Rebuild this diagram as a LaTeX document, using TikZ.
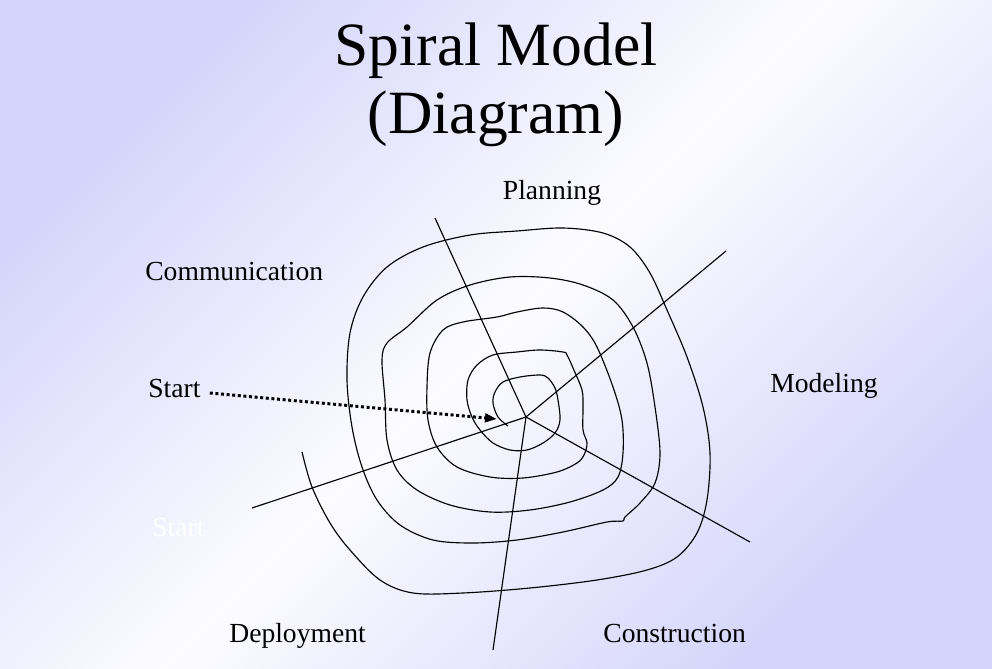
\documentclass[tikz,border=0pt]{standalone}
\usepackage{fontspec}
\setmainfont{Liberation Serif}
\usetikzlibrary{positioning, arrows.meta}
\definecolor{slidelav}{RGB}{212,212,251}
\definecolor{slidewhite}{RGB}{252,252,255}
\tikzset{
  phase/.style={font=\fontsize{15.7}{19}\selectfont, inner sep=0pt, anchor=base west},
  titletext/.style={font=\fontsize{35}{39}\selectfont, inner sep=0pt, anchor=base},
  spoke/.style={black, line width=0.65pt},
  startarrow/.style={line width=1.7pt, dash pattern=on 1.7pt off 1.5pt, -{Triangle[length=0.24cm, width=0.17cm]}},
}

\begin{document}
\begin{tikzpicture}[x=0.02cm, y=-0.02cm]
  % slide background
  \shade[top color=slidelav, bottom color=slidelav, middle color=slidewhite, shading angle=45] (0,0) rectangle (992,669);

  \node[titletext] (title1) at (496,66) {Spiral Model};
  \node[titletext] (title2) at (496,134) {(Diagram)};

  \node[phase, anchor=base] (planning) at (552,200) {Planning};
  \node[phase] (communication) at (145,281) {Communication};
  \node[phase] (start) at (148,398) {Start};
  \node[phase] (modeling) at (770,393) {Modeling};
  \node[phase] (deployment) at (229,642) {Deployment};
  \node[phase] (construction) at (603,642) {Construction};
  \node[phase, text=white] (ghost) at (152,536) {Start};

  % spokes
  \coordinate (hub) at (526,417);
  \coordinate (planend) at (435,218);
  \coordinate (modend) at (726,251);
  \coordinate (consend) at (750,542);
  \coordinate (depend) at (493,650);
  \coordinate (commend) at (252,508);
  \foreach \e in {planend, modend, consend, depend, commend}
    \draw[spoke] (hub) -- (\e);

  % the spiral, from the inside out
  \draw[spoke] plot[smooth, tension=0.55] coordinates {
    (508,426) (498,417) (493,403) (495,392) (503,382) (520,377) (540,375) (548,378)
    (555,388) (558,400) (560,420) (555,433) (543,443) (527,450) (510,450) (493,443)
    (480,430) (472,417) (467,400) (468,380) (477,365) (493,355) (517,352) (540,350)
    (563,352) (567,355) (573,368) (582,390) (583,407) (583,430) (587,443) (584,455)
    (577,463) (557,472) (523,478) (490,477) (457,467) (437,447) (428,420) (427,387)
    (430,353) (443,330) (463,322) (497,317) (517,312) (543,308) (563,312) (583,327)
    (597,347) (613,387) (622,420) (623,453) (618,477) (603,490) (570,502) (530,510)
    (490,512) (450,505) (417,490) (397,470) (387,440) (385,400) (382,360) (387,343)
    (407,327) (437,300) (470,285) (510,277) (550,278) (583,285) (613,300) (633,327)
    (647,363) (655,407) (660,453) (655,483) (640,503) (625,517) (623,521) (607,522)
    (563,532) (517,540) (473,543) (433,540) (400,525) (377,500) (362,467) (352,427)
    (347,380) (350,333) (363,297) (387,267) (423,247) (470,235) (517,231) (563,228)
    (603,233) (630,247) (650,273) (667,310) (687,357) (703,407) (710,453) (707,500)
    (697,533) (677,557) (647,570) (597,580) (530,588) (463,593) (413,593) (380,580)
    (350,550) (330,523) (312,487) (302,452)};

  \coordinate (starttip) at (497,419);
  \draw[startarrow] ([xshift=0.18cm, yshift=-0.08cm]start.east) -- (starttip);
\end{tikzpicture}
\end{document}
